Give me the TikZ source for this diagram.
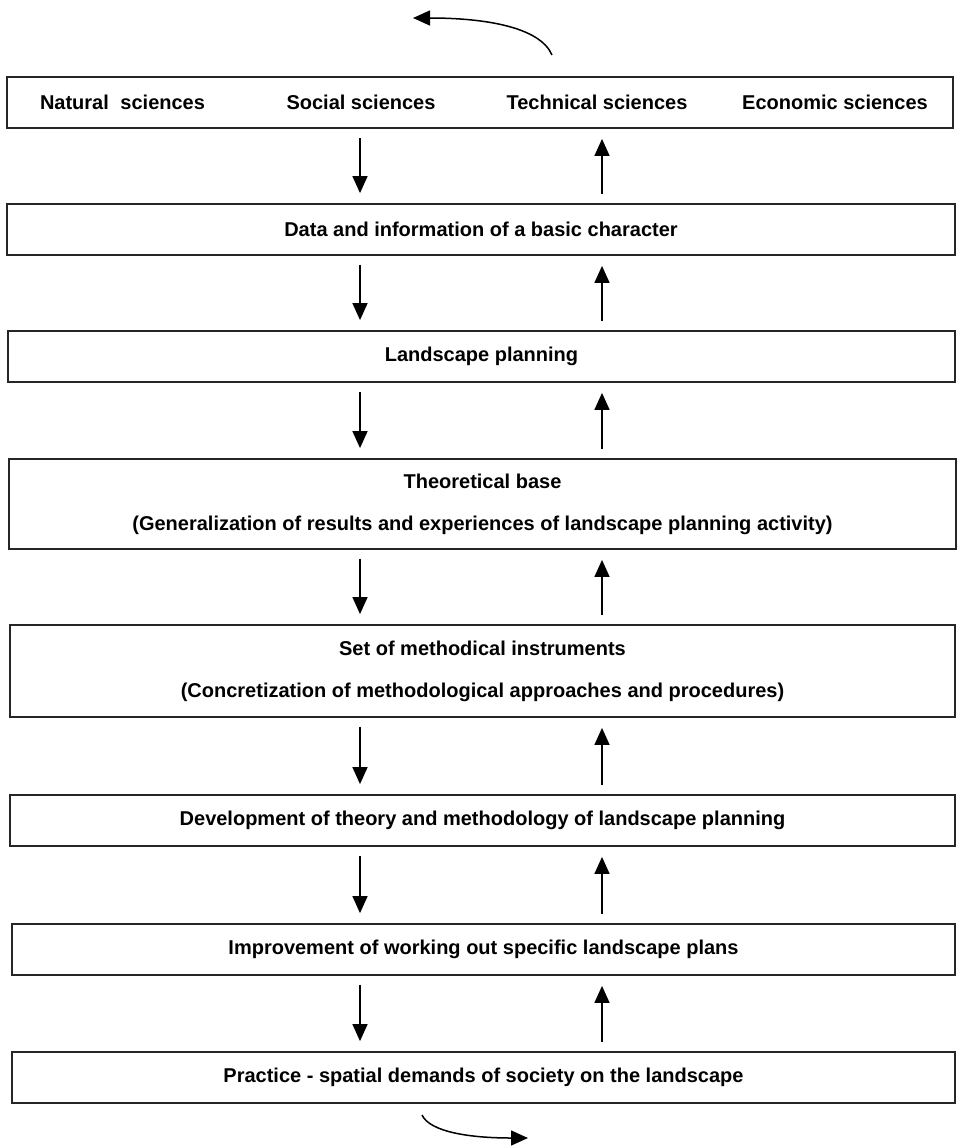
\documentclass[tikz,border=0pt]{standalone}
\usepackage{fontspec}
\setmainfont{Liberation Sans}
\usetikzlibrary{arrows.meta}
\begin{document}
\begin{tikzpicture}[x=1pt,y=-1pt,
  boxn/.style={draw=black!85, line width=1.8pt, rectangle, inner sep=0pt, align=center,
     font=\fontsize{20}{42}\selectfont\bfseries},
  lbl/.style={inner sep=0pt, font=\fontsize{20}{24}\selectfont\bfseries},
  arr/.style={line width=1.5pt, -{Triangle[length=17pt,width=15pt]}, shorten <=9pt, shorten >=10pt},
  carr/.style={line width=1.5pt, -{Triangle[length=17pt,width=15pt]}}]
\useasboundingbox (0,0) rectangle (957,1148);
% boxes
\node[boxn, minimum width=946pt, minimum height=51pt] (b1) at (480,102.5) {};
\node[boxn, minimum width=948pt, minimum height=51pt] (b2) at (481,229.5) {Data and information of a basic character};
\node[boxn, minimum width=947pt, minimum height=51pt] (b3) at (481.5,356.5) {Landscape planning};
\node[boxn, minimum width=947pt, minimum height=90pt] (b4) at (482.5,504) {Theoretical base\\(Generalization of results and experiences of landscape planning activity)};
\node[boxn, minimum width=945pt, minimum height=92pt] (b5) at (482.5,671) {Set of methodical instruments\\(Concretization of methodological approaches and procedures)};
\node[boxn, minimum width=945pt, minimum height=51pt] (b6) at (482.5,820.5) {Development of theory and methodology of landscape planning};
\node[boxn, minimum width=943pt, minimum height=51pt] (b7) at (483.5,949.5) {Improvement of working out specific landscape plans};
\node[boxn, minimum width=943pt, minimum height=51pt] (b8) at (483.5,1077.5) {Practice - spatial demands of society on the landscape};
% labels of the first box
\node[lbl] (l1) at (122.5,102.5) {Natural\hspace{6pt} sciences};
\node[lbl] (l2) at (361,102.5) {Social sciences};
\node[lbl] (l3) at (597,102.5) {Technical sciences};
\node[lbl] (l4) at (835,102.5) {Economic sciences};
% arrow columns
\coordinate (dx) at (360,0);
\coordinate (ux) at (602,0);
\foreach \a/\b in {b1/b2,b2/b3,b3/b4,b4/b5,b5/b6,b6/b7,b7/b8}{
  \draw[arr] (\a.south -| dx) -- (\b.north -| dx);
  \draw[arr] (\b.north -| ux) -- (\a.south -| ux);
}
% curved arrows
\coordinate (ts) at (552,55);
\coordinate (te) at (413,18);
\draw[carr] (ts) .. controls (540,27) and (485,18) .. (te);
\coordinate (bs) at (422,1115);
\coordinate (be) at (528,1138);
\draw[carr] (bs) .. controls (430,1132) and (470,1138) .. (be);
\end{tikzpicture}
\end{document}
